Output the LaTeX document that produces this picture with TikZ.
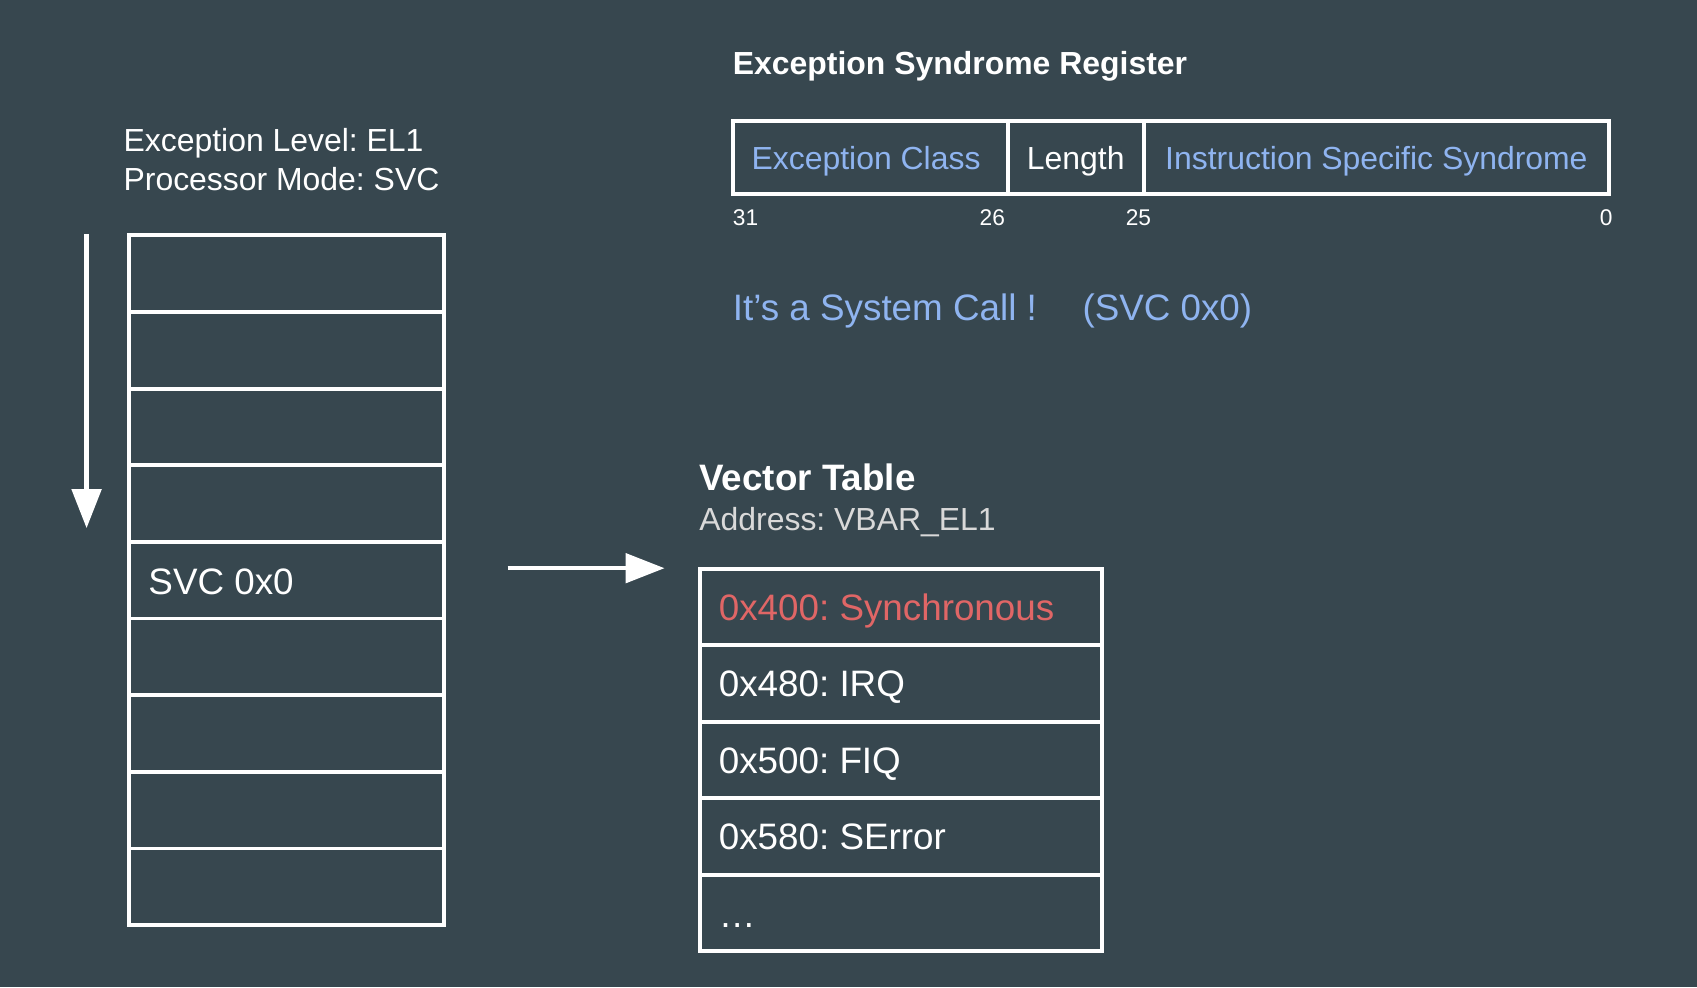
\documentclass[tikz,border=0pt]{standalone}
\usepackage{fontspec}
\setmainfont{Liberation Sans}
\usetikzlibrary{arrows.meta}
\definecolor{bgc}{HTML}{37474F}
\definecolor{bluet}{HTML}{8FB4F0}
\definecolor{redt}{HTML}{E06666}
\definecolor{greyt}{HTML}{D9D9D9}
\newcommand{\fs}[1]{\fontsize{#1}{#1}\selectfont}
\frenchspacing
\tikzset{
  cellbase/.style={draw=white, line width=3.5pt, outer sep=0pt, inner sep=0pt, anchor=north west},
  cell/.style={cellbase, minimum width=290.5pt, minimum height=70.8pt},
  vcell/.style={cellbase, minimum width=372pt, minimum height=70.7pt},
  rcell/.style={cellbase, minimum height=68pt},
  lbl/.style={anchor=base west, inner sep=0pt, text=white},
  clbl/.style={anchor=base, inner sep=0pt, font=\fs{29.5}},
  bigarrow/.style={draw=white, line width=4pt, -{Triangle[width=27pt,length=36pt]}},
}
\begin{document}
\begin{tikzpicture}[x=1pt,y=-1pt]
\fill[bgc] (0,0) rectangle (1568,912);
\useasboundingbox (0,0) rectangle (1568,912);
% left labels
\node[lbl, font=\fs{29.5}] (el) at (114,140) {Exception Level: EL1};
\node[lbl, font=\fs{29.5}] (pm) at (114,176) {Processor Mode: SVC};
% stack
\foreach \i in {1,...,9} {
  \node[cell] (s\i) at (119.5,{217.5+70.8*(\i-1)}) {};
}
\node[lbl, font=\fs{34}] (svc) at (137,549) {SVC 0x0};
% down arrow
\coordinate (dtop) at (80,216);
\coordinate (dbot) at (80,488);
\draw[bigarrow] (dtop) -- (dbot);
% right arrow
\coordinate (ra) at (469,525);
\coordinate (rb) at (614,525);
\draw[bigarrow] (ra) -- (rb);
% ESR
\node[lbl, font=\bfseries\fs{29.5}] (esrt) at (677,69) {Exception Syndrome Register};
\node[rcell, minimum width=253.5pt] (ec) at (677.5,111.5) {};
\node[rcell, minimum width=126pt] (len) at (931,111.5) {};
\node[rcell, minimum width=429.5pt] (iss) at (1057,111.5) {};
\node[clbl, text=bluet] (ect) at ([xshift=-4pt,yshift=-11pt]ec.center) {Exception Class};
\node[clbl, text=white] (lent) at ([yshift=-11pt]len.center) {Length};
\node[clbl, text=bluet] (isst) at ([yshift=-11pt]iss.center) {Instruction Specific Syndrome};
\node[lbl, font=\fs{21}] (b31) at (677,208) {31};
\node[lbl, font=\fs{21}] (b26) at (905,208) {26};
\node[lbl, font=\fs{21}] (b25) at (1040,208) {25};
\node[lbl, font=\fs{21}] (b0) at (1478,208) {0};
\node[lbl, font=\fs{34}, text=bluet] (sys) at (677,296) {It’s a System Call !};
\node[lbl, font=\fs{34}, text=bluet] (svc2) at (1000,296) {(SVC 0x0)};
% Vector table
\node[lbl, font=\bfseries\fs{34}] (vtt) at (646,453) {Vector Table};
\node[lbl, font=\fs{29.5}, text=greyt] (addr) at (646,490) {Address: VBAR\_EL1};
\foreach \i in {1,...,5} {
  \node[vcell] (v\i) at (646.5,{525.5+70.7*(\i-1)}) {};
}
\node[lbl, font=\fs{34}, text=redt] (v1t) at (664,573) {0x400: Synchronous};
\node[lbl, font=\fs{34}] (v2t) at (664,644) {0x480: IRQ};
\node[lbl, font=\fs{34}] (v3t) at (664,715) {0x500: FIQ};
\node[lbl, font=\fs{34}] (v4t) at (664,785) {0x580: SError};
\node[lbl, font=\fs{34}] (v5t) at (664,857) {\dots};
\end{tikzpicture}
\end{document}
